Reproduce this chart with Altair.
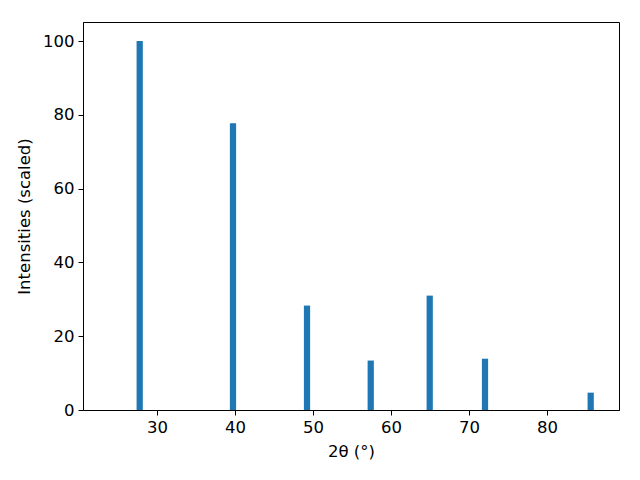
import altair as alt
import pandas as pd

two_theta = [27.78, 39.74, 49.23, 57.4, 64.96, 72.05, 85.6]
intensity = [100.0, 77.7, 28.3, 13.4, 31.0, 13.9, 4.7]
x_ticks = [30, 40, 50, 60, 70, 80]
y_ticks = [0, 20, 40, 60, 80, 100]

df = pd.DataFrame({"t": two_theta, "i": intensity})

chart = alt.Chart(df).transform_calculate(
    x0="datum.t - 0.4", x1="datum.t + 0.4"
).mark_bar(color="#1f77b4").encode(
    x=alt.X("x0:Q", scale=alt.Scale(domain=[20.51, 89.23], nice=False, zero=False),
            axis=alt.Axis(values=x_ticks, title="2θ (°)", grid=False, titlePadding=8)),
    x2="x1:Q",
    y=alt.Y("i:Q", scale=alt.Scale(domain=[0, 105.15], nice=False),
            axis=alt.Axis(values=y_ticks, title="Intensities (scaled)", grid=False, titlePadding=10)),
    y2=alt.datum(0),
).properties(
    width=536, height=388,
    autosize=alt.AutoSizeParams(type="none"),
    padding={"left": 75, "top": 14, "right": 13, "bottom": 62},
).configure_view(
    stroke="black", strokeWidth=1
).configure_axis(
    domainColor="black", tickColor="black", tickSize=5, labelFont="DejaVu Sans",
    labelFontSize=16.5, labelColor="black", titleFont="DejaVu Sans", titleFontSize=16.5,
    titleFontWeight="normal", titleColor="black", labelPadding=4,
    labelFlush=False
)

chart.save("out.html", embed_options={"renderer": "svg", "actions": False})
